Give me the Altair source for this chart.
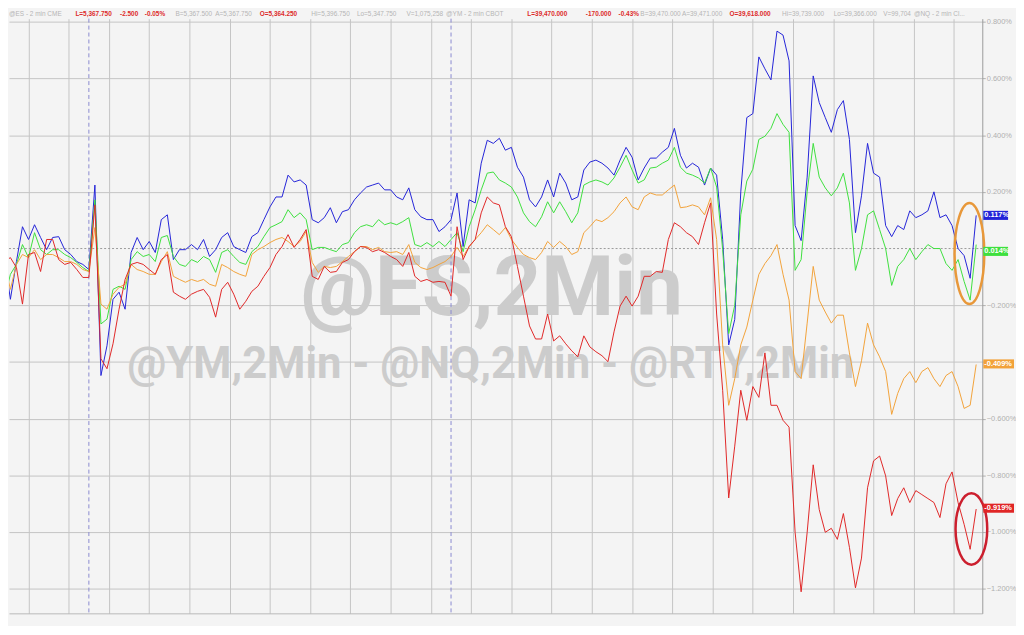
import json
import altair as alt
import pandas as pd

# ---------------- data (percent change, 9-minute sampling) ----------------
SERIES = ["@NQ", "@ES", "@YM", "@RTY"]
COLORS = ["#2323d8", "#3ee03e", "#f2a23a", "#e02626"]
T0, DT = -1.1, 0.15  # hours relative to 13:00 label, step between samples

NQ = [-0.032, -0.179, -0.046, 0.077, 0.032, 0.084, 0.039, -0.004, 0.039, 0.042,
      -0.004, -0.021, -0.046, -0.056, -0.074, 0.224, -0.448, -0.343, -0.179, -0.154,
      -0.214, -0.014, 0.039, -0.004, 0.025, -0.014, 0.102, 0.119, -0.039, -0.004,
      -0.004, 0.014, -0.004, 0.032, -0.028, -0.004, 0.039, 0.056, 0.007, -0.004,
      -0.014, 0.042, 0.056, 0.102, 0.147, 0.182, 0.182, 0.259, 0.235, 0.242,
      0.224, 0.102, 0.091, 0.109, 0.144, 0.091, 0.130, 0.137, 0.172, 0.196,
      0.217, 0.224, 0.231, 0.207, 0.207, 0.182, 0.172, 0.214, 0.137, 0.112,
      0.102, 0.102, 0.060, 0.077, 0.102, 0.196, 0.007, 0.172, 0.161, 0.301,
      0.382, 0.371, 0.389, 0.347, 0.357, 0.287, 0.252, 0.172, 0.147, 0.182,
      0.242, 0.182, 0.266, 0.231, 0.172, 0.182, 0.277, 0.305, 0.312, 0.301,
      0.284, 0.259, 0.312, 0.357, 0.322, 0.242, 0.284, 0.319, 0.319, 0.340,
      0.357, 0.424, 0.329, 0.284, 0.301, 0.287, 0.224, 0.284, 0.259, 0.032,
      -0.340, -0.250, 0.200, 0.462, 0.476, 0.676, 0.634, 0.595, 0.767, 0.753,
      0.662, 0.081, 0.028, 0.252, 0.609, 0.515, 0.462, 0.410, 0.490, 0.522,
      0.385, 0.056, 0.186, 0.371, 0.266, 0.252, 0.081, 0.042, 0.081, 0.067,
      0.133, 0.109, 0.119, 0.133, 0.200, 0.109, 0.119, 0.081, 0.000, -0.025,
      -0.105, 0.117]

ES = [-0.179, -0.091, -0.056, 0.014, -0.032, 0.056, -0.004, -0.021, -0.004, -0.004,
      -0.021, -0.032, -0.049, -0.067, -0.081, 0.172, -0.266, -0.249, -0.144, -0.133,
      -0.144, -0.039, -0.011, -0.028, -0.021, -0.046, 0.039, 0.046, -0.028, -0.056,
      -0.063, -0.039, -0.049, -0.028, -0.039, -0.084, -0.014, -0.004, -0.028, -0.049,
      -0.056, -0.011, 0.007, 0.042, 0.074, 0.084, 0.095, 0.137, 0.109, 0.126,
      0.102, -0.004, 0.004, 0.004, -0.004, -0.011, 0.014, 0.021, 0.056, 0.077,
      0.084, 0.077, 0.102, 0.084, 0.091, 0.084, 0.095, 0.109, 0.014, 0.007,
      0.021, 0.007, 0.025, 0.007, 0.032, 0.056, -0.011, 0.077, 0.137, 0.207,
      0.266, 0.270, 0.242, 0.231, 0.217, 0.182, 0.126, 0.095, 0.077, 0.112,
      0.165, 0.126, 0.165, 0.130, 0.091, 0.126, 0.224, 0.235, 0.242, 0.235,
      0.224, 0.249, 0.287, 0.329, 0.277, 0.231, 0.242, 0.284, 0.287, 0.301,
      0.312, 0.357, 0.287, 0.266, 0.259, 0.249, 0.231, 0.284, 0.217, -0.004,
      -0.300, -0.200, 0.119, 0.238, 0.280, 0.385, 0.396, 0.424, 0.476, 0.438,
      0.410, -0.077, -0.039, 0.200, 0.371, 0.252, 0.214, 0.186, 0.214, 0.266,
      0.161, -0.077, 0.000, 0.119, 0.133, 0.067, 0.000, -0.130, -0.063, -0.039,
      0.000, -0.039, -0.011, 0.014, 0.000, 0.000, -0.053, -0.077, -0.039, -0.116,
      -0.182, 0.014]

YM = [-0.046, -0.144, -0.056, -0.021, -0.032, -0.004, -0.039, -0.021, -0.021, -0.032,
      -0.046, -0.046, -0.056, -0.074, -0.081, 0.074, -0.196, -0.214, -0.161, -0.137,
      -0.126, -0.056, -0.074, -0.081, -0.091, -0.091, -0.046, -0.011, -0.098, -0.109,
      -0.119, -0.109, -0.116, -0.109, -0.126, -0.133, -0.056, -0.067, -0.081, -0.091,
      -0.098, -0.021, -0.004, 0.007, 0.021, 0.032, 0.039, 0.025, 0.007, 0.025,
      0.060, -0.049, -0.084, -0.063, -0.067, -0.063, -0.046, -0.028, -0.011, 0.007,
      0.007, -0.004, 0.004, -0.011, -0.014, -0.011, -0.021, 0.014, -0.049, -0.067,
      -0.074, -0.067, -0.056, -0.046, -0.028, 0.004, -0.028, 0.007, 0.032, 0.056,
      0.084, 0.067, 0.049, 0.074, 0.032, 0.004, -0.021, -0.032, -0.039, -0.014,
      0.025, 0.004, 0.025, 0.007, -0.021, -0.011, 0.056, 0.077, 0.102, 0.095,
      0.109, 0.130, 0.161, 0.182, 0.147, 0.137, 0.182, 0.196, 0.189, 0.189,
      0.207, 0.224, 0.144, 0.147, 0.154, 0.147, 0.119, 0.179, 0.032, -0.340,
      -0.553, -0.459, -0.340, -0.277, -0.182, -0.091, -0.053, -0.025, 0.014, -0.091,
      -0.182, -0.434, -0.459, -0.263, -0.063, -0.182, -0.224, -0.263, -0.235, -0.235,
      -0.368, -0.487, -0.396, -0.263, -0.340, -0.382, -0.434, -0.585, -0.511, -0.459,
      -0.434, -0.473, -0.434, -0.420, -0.459, -0.487, -0.448, -0.434, -0.487, -0.564,
      -0.553, -0.409]

RTY = [-0.046, -0.032, -0.067, -0.196, -0.021, -0.014, -0.081, 0.032, 0.032, -0.039,
       -0.056, -0.049, -0.074, -0.102, -0.102, 0.154, -0.389, -0.424, -0.336, -0.214,
       -0.109, -0.056, -0.049, -0.056, -0.074, -0.091, -0.039, -0.021, -0.154, -0.168,
       -0.179, -0.161, -0.151, -0.144, -0.172, -0.242, -0.144, -0.119, -0.161, -0.214,
       -0.186, -0.151, -0.133, -0.098, -0.067, -0.021, 0.007, 0.049, 0.004, 0.032,
       0.067, -0.098, -0.109, -0.063, -0.084, -0.081, -0.049, -0.039, -0.011, 0.007,
       0.004, -0.011, -0.004, -0.014, -0.028, -0.039, -0.063, -0.014, -0.098, -0.116,
       -0.109, -0.119, -0.116, -0.119, -0.168, 0.077, -0.039, 0.007, 0.032, 0.126,
       0.182, 0.161, 0.154, 0.077, 0.042, -0.063, -0.168, -0.273, -0.319, -0.319,
       -0.231, -0.326, -0.308, -0.336, -0.361, -0.382, -0.308, -0.347, -0.364, -0.378,
       -0.399, -0.294, -0.203, -0.168, -0.203, -0.168, -0.098, -0.098, -0.081, -0.084,
       0.032, 0.091, 0.077, 0.056, 0.042, 0.014, 0.091, 0.161, -0.231, -0.500,
       -0.880, -0.697, -0.500, -0.606, -0.487, -0.525, -0.368, -0.553, -0.553, -0.606,
       -0.630, -1.001, -1.211, -1.001, -0.763, -0.921, -1.001, -0.987, -1.026, -0.935,
       -1.054, -1.197, -1.092, -0.844, -0.749, -0.732, -0.802, -0.942, -0.882, -0.844,
       -0.896, -0.854, -0.868, -0.882, -0.896, -0.949, -0.830, -0.788, -0.896, -0.973,
       -1.061, -0.919]

XLBL = ["13:00", "8/11", "16:00", "17:00", "18:00", "19:00", "20:00", "21:00",
        "22:00", "23:00", "8/12", "01:00", "02:00", "03:00", "04:00", "05:00",
        "06:00", "07:00", "08:00", "09:00", "10:00", "11:00", "12:00"]
SESSION_BREAKS = [1, 10]
YTICKS = [-1.2, -1.0, -0.8, -0.6, -0.4, -0.2, 0.2, 0.4, 0.6, 0.8]

LAST_TEXT = ["0.117%", "0.014%", "-0.409%", "-0.919%"]
LAST_POS = [0.117, -0.010, -0.407, -0.916]

HEADER = [
    (0, "@ES - 2 min   CME", False), (67, "L=5,367.750", True), (112, "-2.500", True),
    (137, "-0.05%", True), (168, "B=5,367.500", False), (208, "A=5,367.750", False),
    (253, "O=5,364.250", True), (305, "Hi=5,396.750", False), (351, "Lo=5,347.750", False),
    (401, "V=1,075,258", False), (441, "@YM - 2 min   CBOT", False),
    (523, "L=39,470.000", True), (582, "-170.000", True), (615, "-0.43%", True),
    (637, "B=39,470.000", False), (679, "A=39,471.000", False), (727, "O=39,618.000", True),
    (780, "Hi=39,739.000", False), (832, "Lo=39,366.000", False), (882, "V=99,704", False),
    (913, "@NQ - 2 min   Cl...", False),
]
WATERMARK = ["@ES,2Min", "@YM,2Min - @NQ,2Min - @RTY,2Min"]

# ---------------- layout ----------------
W, H = 982, 600
XDOM = [-0.985, 23.202]
YDOM = [-1.287, 0.811]
BG = "#f4f4f4"

rows = []
for name, vals in zip(SERIES, [NQ, ES, YM, RTY]):
    for i, v in enumerate(vals):
        rows.append({"s": name, "t": round(T0 + DT * i, 3), "v": v})
df = pd.DataFrame(rows)

xs = alt.Scale(domain=XDOM, nice=False, zero=False)
ys = alt.Scale(domain=YDOM, nice=False, zero=False)

xlabel_expr = ("datum.value >= 0 && datum.value <= 22 && datum.value % 1 == 0 ? "
               + json.dumps(XLBL) + "[datum.value] : ''")
xticks = [i * 0.5 for i in range(-1, 47)]

x_axis = alt.Axis(values=xticks, labelExpr=xlabel_expr, grid=True, gridColor="#c4c4c4",
                  gridWidth=1, ticks=False, domain=True, domainColor="#b8b8b8",
                  labelColor="#a8a8a8", labelFontSize=7, labelPadding=3, labelAngle=0,
                  labelOverlap=False, labelFlush=False, title=None)
# the -0.400% label sits under the YM last-value box, as in the original
y_axis = alt.Axis(orient="right", values=YTICKS,
                  labelExpr="abs(datum.value + 0.4) < 0.001 ? '' : format(datum.value, '.3f') + '%'",
                  grid=True, gridColor="#c4c4c4", gridWidth=1, tickColor="#b0b0b0",
                  tickSize=3, domain=True, domainColor="#9a9a9a", labelColor="#b0b0b0",
                  labelFontSize=7.5, labelPadding=1, title=None)

one = alt.Data(values=[{"a": 1}])

layers = []

# watermark
layers.append(alt.Chart(one).mark_text(font="Roboto", fontWeight="bold", fontSize=84,
                                       color="#cccccc", align="center", baseline="middle")
              .encode(x=alt.value(487), y=alt.value(274), text=alt.value(WATERMARK[0])))
layers.append(alt.Chart(one).mark_text(font="Roboto", fontWeight="bold", fontSize=44,
                                       color="#cccccc", align="center", baseline="middle")
              .encode(x=alt.value(486), y=alt.value(350), text=alt.value(WATERMARK[1])))

# session break rules
layers.append(alt.Chart(pd.DataFrame({"t": SESSION_BREAKS})).mark_rule(
    color="#8a8ad0", strokeWidth=1, strokeDash=[4, 3]).encode(
    x=alt.X("t:Q", scale=xs, axis=x_axis)))

# zero rule
layers.append(alt.Chart(pd.DataFrame({"v": [0.0]})).mark_rule(
    color="#9a9a9a", strokeWidth=1, strokeDash=[2, 2]).encode(
    y=alt.Y("v:Q", scale=ys, axis=y_axis)))

# lines
layers.append(alt.Chart(df).mark_line(strokeWidth=1, clip=True).encode(
    x=alt.X("t:Q", scale=xs, axis=x_axis),
    y=alt.Y("v:Q", scale=ys, axis=y_axis),
    color=alt.Color("s:N", scale=alt.Scale(domain=SERIES, range=COLORS), legend=None),
    order=alt.value(0),
))

# highlight ellipses
ell = [("M 0 -1 A 0.294 1 0 1 1 0 1 A 0.294 1 0 1 1 0 -1 Z", 10404, "#e8983a", 22.882, -0.0175),
       ("M 0 -1 A 0.444 1 0 1 1 0 1 A 0.444 1 0 1 1 0 -1 Z", 5184, "#cc1f2e", 22.931, -0.9895)]
for path, size, col, tt, vv in ell:
    layers.append(alt.Chart(pd.DataFrame({"t": [tt], "v": [vv]})).mark_point(
        shape=path, size=size, filled=False, strokeWidth=2.5, color=col, opacity=1).encode(
        x=alt.X("t:Q", scale=xs), y=alt.Y("v:Q", scale=ys)))

# last-value boxes
box_w = [25, 25, 31, 31]
for name, col, txt, pos, bw in zip(SERIES, COLORS, LAST_TEXT, LAST_POS, box_w):
    bdf = pd.DataFrame({"v": [pos], "y1": [pos + 0.016], "y2": [pos - 0.016], "lbl": [txt]})
    layers.append(alt.Chart(bdf).mark_rect(color=col, clip=False).encode(
        x=alt.value(W + 1), x2=alt.value(W + 1 + bw),
        y=alt.Y("y1:Q", scale=ys), y2="y2:Q"))
    layers.append(alt.Chart(bdf).mark_text(color="white", fontWeight="bold", fontSize=7.5,
                                           align="left", baseline="middle", clip=False,
                                           font="Liberation Sans").encode(
        x=alt.value(W + 2), y=alt.Y("v:Q", scale=ys), text="lbl:N"))

# header line
for hx, txt, red in HEADER:
    layers.append(alt.Chart(one).mark_text(
        font="Liberation Sans", fontSize=6.5, align="left", baseline="middle",
        fontWeight="bold" if red else "normal",
        color="#dd2b2b" if red else "#b4b4b4").encode(
        x=alt.value(hx), y=alt.value(-5), text=alt.value(txt)))

chart = alt.layer(*layers).properties(
    width=W, height=H, background=BG,
    padding={"left": 0, "right": 0, "top": 0, "bottom": 0},
).configure_view(stroke=None, fill=BG).configure_axis(labelFont="Liberation Sans")

chart.save("out.html", embed_options={"renderer": "svg", "actions": False})
